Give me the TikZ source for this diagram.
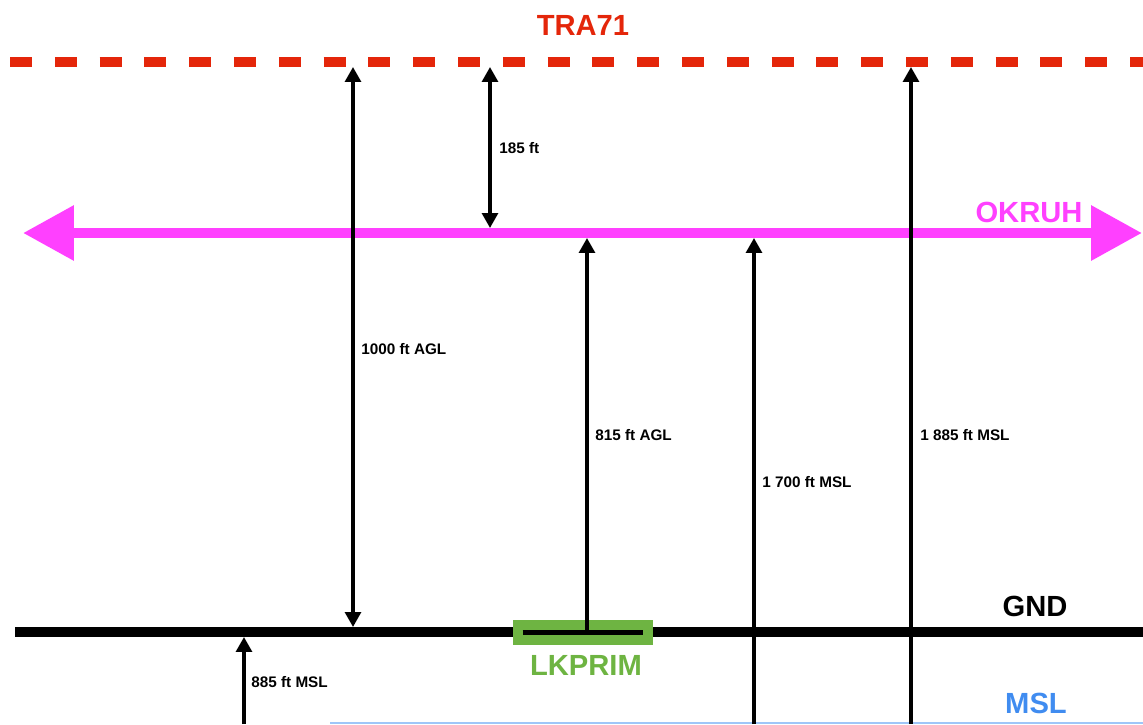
\documentclass[tikz,border=0pt]{standalone}
\usepackage{fontspec}
\setmainfont{Liberation Sans}
\usetikzlibrary{arrows.meta, positioning}
\definecolor{traRed}{RGB}{228,38,10}
\definecolor{okruhPink}{RGB}{255,64,255}
\definecolor{lkGreen}{RGB}{110,180,66}
\definecolor{mslBlue}{RGB}{64,140,240}

\begin{document}
\begin{tikzpicture}[x=0.02cm, y=-0.02cm,
    biglbl/.style={font=\bfseries\fontsize{16.6}{20}\selectfont, inner sep=0},
    smalllbl/.style={font=\bfseries\fontsize{8.7}{10}\selectfont, anchor=west, inner sep=0},
    level/.style={line width=6pt},
    alt/.style={-{Triangle[length=8.5pt, width=9pt]}, line width=1.9pt},
    altboth/.style={{Triangle[length=8.5pt, width=9pt]}-{Triangle[length=8.5pt, width=9pt]}, line width=1.9pt}
]
\useasboundingbox (0,0) rectangle (1143,724);

\coordinate (traL) at (10,62);
\coordinate (traR) at (1143,62);
\coordinate (okL) at (23,233);
\coordinate (okR) at (1142,233);
\coordinate (gndL) at (15,632);
\coordinate (gndR) at (1143,632);
\coordinate (mslL) at (330,723);
\coordinate (mslR) at (1143,723);

\draw[level, traRed, dash pattern=on 12.5pt off 13pt] (traL) -- (traR);
\draw[mslBlue!50, line width=0.6pt] (mslL) -- (mslR);
\draw[level] (gndL) -- (gndR);
\draw[level, okruhPink, {Triangle[length=29pt, width=30pt]}-{Triangle[length=29pt, width=30pt]}] (okL) -- (okR);

\node[biglbl, traRed] (tra) at (583,25) {TRA71};
\node[biglbl, okruhPink] (okruh) at (1029,212) {OKRUH};
\node[biglbl] (gnd) at (1035,606) {GND};
\node[biglbl, mslBlue] (msl) at (1036,703) {MSL};

\node[fill=lkGreen, minimum width=2.8cm, minimum height=0.5cm, inner sep=0] (lkBox) at (583,632.5) {};
\draw[line width=2.8pt] ([xshift=0.2cm]lkBox.west) -- ([xshift=-0.2cm]lkBox.east);
\node[biglbl, lkGreen] (lkprim) at (586,665) {LKPRIM};

\coordinate (a1000top) at (353,67);
\coordinate (a1000bot) at (353,627);
\coordinate (a185top) at (490,67);
\coordinate (a185bot) at (490,228);
\coordinate (a815bot) at (587,633);
\coordinate (a815top) at (587,238);
\coordinate (a1700bot) at (754,724);
\coordinate (a1700top) at (754,238);
\coordinate (a1885bot) at (911,724);
\coordinate (a1885top) at (911,67);
\coordinate (a885bot) at (244,724);
\coordinate (a885top) at (244,637);

\draw[altboth] (a1000top) -- (a1000bot);
\draw[altboth] (a185top) -- (a185bot);
\draw[alt] (a815bot) -- (a815top);
\draw[alt] (a1700bot) -- (a1700top);
\draw[alt] (a1885bot) -- (a1885top);
\draw[alt] (a885bot) -- (a885top);

\node[smalllbl] (l1000) at (361,349) {1000 ft AGL};
\node[smalllbl] (l185) at (499,148) {185 ft};
\node[smalllbl] (l815) at (595,435) {815 ft AGL};
\node[smalllbl] (l1700) at (762,482) {1 700 ft MSL};
\node[smalllbl] (l1885) at (920,435) {1 885 ft MSL};
\node[smalllbl] (l885) at (251,682) {885 ft MSL};
\end{tikzpicture}
\end{document}
